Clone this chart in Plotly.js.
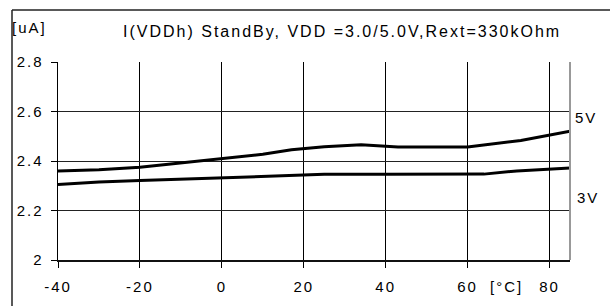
<!DOCTYPE html>
<html>
<head>
<meta charset="utf-8">
<script src="https://cdn.plot.ly/plotly-3.0.1.min.js"></script>
<style>
html,body{margin:0;padding:0;background:#fff;}
#chart{width:610px;height:306px;}
.main-svg text{letter-spacing:2px;}
</style>
</head>
<body>
<div id="chart"></div>
<script>
// Temperatures (°C) and supply currents (uA)
const temp5V = [-40, -30, -20, -10, 0, 10, 17, 25, 34, 43, 60, 73, 85];
const curr5V = [2.36, 2.365, 2.375, 2.393, 2.41, 2.427, 2.445, 2.458, 2.466, 2.457, 2.457, 2.483, 2.52];
const temp3V = [-40, -30, -20, 0, 20, 25, 40, 60, 64, 72, 85];
const curr3V = [2.305, 2.315, 2.321, 2.333, 2.344, 2.346, 2.346, 2.346, 2.347, 2.36, 2.372];
const xTicks = [-40, -20, 0, 20, 40, 60, 80];
const yTicks = [2, 2.2, 2.4, 2.6, 2.8];
const yTickText = ['2', '2.2', '2.4', '2.6', '2.8'];
const titleText = 'I(VDDh) StandBy, VDD =3.0/5.0V,Rext=330kOhm';
const seriesLabels = ['5V', '3V'];

const W = 610, H = 306, L = 58, R = 40, T = 62, B = 46;
const pw = W - L - R, ph = H - T - B;
const px = x => (x - L) / pw;
const py = y => (H - B - y) / ph;

const font = {family: 'Liberation Sans, Arial, sans-serif', size: 15, color: '#000'};

const traces = [
  {x: temp5V, y: curr5V, mode: 'lines', line: {color: '#000', width: 3}, hoverinfo: 'skip'},
  {x: temp3V, y: curr3V, mode: 'lines', line: {color: '#000', width: 3}, hoverinfo: 'skip'}
];

const layout = {
  width: W, height: H,
  margin: {l: L, r: R, t: T, b: B, pad: 0},
  paper_bgcolor: '#fff', plot_bgcolor: '#fff',
  showlegend: false,
  font: font,
  xaxis: {
    range: [-40, 85], tickvals: xTicks, ticktext: xTicks.map(String),
    showgrid: true, gridcolor: '#000', gridwidth: 1, zeroline: false,
    showline: true, linecolor: '#111', linewidth: 1.5,
    ticks: 'outside', ticklen: 6, tickcolor: '#000', tickwidth: 1,
    tickfont: font, ticklabelstandoff: 6
  },
  yaxis: {
    range: [2, 2.8], tickvals: yTicks, ticktext: yTickText,
    showgrid: true, gridcolor: '#222', gridwidth: 1, zeroline: false,
    showline: true, linecolor: '#000', linewidth: 1.5,
    ticks: 'outside', ticklen: 6, tickcolor: '#000', tickwidth: 1,
    tickfont: font, ticklabelstandoff: 4
  },
  shapes: [
    {type: 'line', xref: 'paper', yref: 'paper', x0: 1, x1: 1, y0: 0, y1: 1, line: {color: '#999', width: 2}},
    {type: 'line', xref: 'paper', yref: 'paper', x0: px(12), x1: px(12), y0: py(10), y1: py(320), line: {color: '#222', width: 1.5}},
    {type: 'line', xref: 'paper', yref: 'paper', x0: px(12), x1: px(620), y0: py(10), y1: py(10), line: {color: '#222', width: 1.5}}
  ],
  annotations: [
    {text: titleText, xref: 'paper', yref: 'paper', x: px(342), y: py(31), xanchor: 'center', yanchor: 'middle', showarrow: false, font: {family: font.family, size: 16, color: '#000'}},
    {text: '[uA]', xref: 'paper', yref: 'paper', x: px(14), y: py(27), xanchor: 'left', yanchor: 'middle', showarrow: false, font: font},
    {text: seriesLabels[0], xref: 'paper', yref: 'paper', x: px(575), y: py(117), xanchor: 'left', yanchor: 'middle', showarrow: false, font: font},
    {text: seriesLabels[1], xref: 'paper', yref: 'paper', x: px(577), y: py(197), xanchor: 'left', yanchor: 'middle', showarrow: false, font: font},
    {text: '[°C]', xref: 'paper', yref: 'paper', x: px(506), y: py(286), xanchor: 'center', yanchor: 'middle', showarrow: false, font: font}
  ]
};

Plotly.newPlot('chart', traces, layout, {staticPlot: true, displayModeBar: false});
</script>
</body>
</html>
